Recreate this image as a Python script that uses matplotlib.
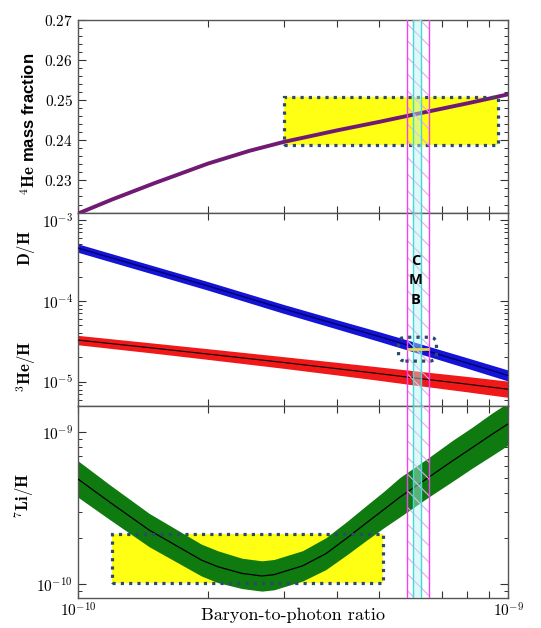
import matplotlib
matplotlib.use('Agg')
import matplotlib.pyplot as plt
import numpy as np
from matplotlib.ticker import FixedLocator, NullFormatter, MultipleLocator
from matplotlib.patches import Rectangle, FancyBboxPatch

plt.rcParams['mathtext.fontset'] = 'cm'
plt.rcParams['hatch.linewidth'] = 0.8

# ---------------- data ----------------
# 4He mass fraction vs baryon-to-photon ratio (eta in units of 1e-10)
eta_he4 = [1.0, 1.2, 1.5, 2.0, 2.5, 3.0, 4.0, 5.0, 6.0, 7.0, 8.0, 9.0, 10.0]
yp_he4 = [0.2218, 0.2253, 0.2293, 0.2342, 0.2374, 0.2396, 0.2425, 0.2446,
          0.2464, 0.2479, 0.2492, 0.2504, 0.2515]

# D/H and 3He/H (eta in units of 1e-10)
eta_mid = [1.0, 1.5, 2.0, 3.0, 4.0, 5.0, 6.0, 8.0, 10.0]
dh = [4.47e-4, 2.39e-4, 1.53e-4, 7.95e-5, 5.10e-5, 3.62e-5, 2.71e-5, 1.71e-5, 1.19e-5]
dh_err_dex = [0.052, 0.052, 0.053, 0.055, 0.057, 0.060, 0.062, 0.065, 0.068]
he3h = [3.27e-5, 2.60e-5, 2.20e-5, 1.73e-5, 1.45e-5, 1.26e-5, 1.12e-5, 9.35e-6, 8.07e-6]
he3h_err_dex = [0.058, 0.062, 0.066, 0.072, 0.078, 0.083, 0.088, 0.095, 0.100]

# 7Li/H (eta in units of 1e-10, Li/H in units of 1e-10)
eta_li = [1.0, 1.18, 1.46, 1.93, 2.11, 2.40, 2.67, 2.85, 3.32, 3.76, 4.22, 4.68, 5.13,
          5.59, 6.49, 7.39, 8.27, 9.16, 10.0]
li7h = [4.90, 3.48, 2.27, 1.44, 1.30, 1.175, 1.13, 1.153, 1.318, 1.585, 2.02, 2.54,
        3.10, 3.74, 5.01, 6.46, 8.00, 9.73, 11.43]
li7h_err_dex = [0.12, 0.115, 0.11, 0.105, 0.105, 0.10, 0.10, 0.10, 0.10, 0.105,
                0.11, 0.115, 0.12, 0.13, 0.13, 0.135, 0.135, 0.14, 0.14]

# observational boxes
he4_obs_eta = [3.0e-10, 9.44e-10]
he4_obs_y = [0.2389, 0.2507]
dh_obs_eta = [5.55e-10, 6.80e-10]
dh_obs_y = [1.80e-5, 3.55e-5]
dh_obs_line = 2.55e-5
li_obs_eta = [1.195e-10, 5.11e-10]
li_obs_y = [1.02e-10, 2.13e-10]

# CMB band
cmb_outer = [5.82e-10, 6.52e-10]
cmb_inner = [6.01e-10, 6.25e-10]
cmb_text_pos = (6.08e-10, 1.81e-4)

# axes ranges and ticks
xlim = (1e-10, 1e-9)
he4_ylim = (0.2218, 0.27)
he4_ticks = [0.23, 0.24, 0.25, 0.26, 0.27]
he4_ticklabels = [r'$\mathbf{0.23}$', r'$\mathbf{0.24}$', r'$\mathbf{0.25}$',
                  r'$\mathbf{0.26}$', r'$\mathbf{0.27}$']
mid_ylim = (5.06e-6, 1.21e-3)
mid_ticks = [1e-5, 1e-4, 1e-3]
mid_ticklabels = [r'$\mathbf{10^{-5}}$', r'$\mathbf{10^{-4}}$', r'$\mathbf{10^{-3}}$']
li_ylim = (8.12e-11, 1.50e-9)
li_ticks = [1e-10, 1e-9]
li_ticklabels = [r'$\mathbf{10^{-10}}$', r'$\mathbf{10^{-9}}$']
x_ticks = [1e-10, 1e-9]
x_ticklabels = [r'$10^{-10}$', r'$10^{-9}$']

# ---------------- styling ----------------
PURPLE = '#701a74'
YELLOW = '#ffff14'
DOTS = '#2d4a6d'
BLUE = '#1414d6'
BLUE_DARK = '#00006e'
RED = '#f01818'
GREEN = '#0f7a0f'
MAGENTA = '#ee44ee'
HATCH = '#f0a0f0'
CYAN = '#40dcdc'
CYAN_FILL = '#b8f2f2'
SPINE = '#555555'
dotted = (0, (1.0, 1.6))

fig = plt.figure(figsize=(5.41, 6.28), dpi=100)
ax1 = fig.add_axes([0.1451, 0.6603, 0.7948, 0.3078])
ax2 = fig.add_axes([0.1451, 0.3540, 0.7948, 0.3064])
ax3 = fig.add_axes([0.1451, 0.0482, 0.7948, 0.3057])

e_he4 = np.array(eta_he4) * 1e-10
e_mid = np.array(eta_mid) * 1e-10
e_li = np.array(eta_li) * 1e-10

# --- top panel: 4He ---
ax1.set_xscale('log')
ax1.add_patch(Rectangle((he4_obs_eta[0], he4_obs_y[0]), he4_obs_eta[1] - he4_obs_eta[0],
                        he4_obs_y[1] - he4_obs_y[0], facecolor=YELLOW, edgecolor='none', zorder=1))
ax1.plot(e_he4, yp_he4, color=PURPLE, lw=2.8, zorder=3, solid_capstyle='butt',
         solid_joinstyle='round')
ax1.add_patch(Rectangle((he4_obs_eta[0], he4_obs_y[0]), he4_obs_eta[1] - he4_obs_eta[0],
                        he4_obs_y[1] - he4_obs_y[0], facecolor='none', edgecolor=DOTS,
                        lw=2.3, linestyle=dotted, zorder=4))
ax1.set_ylim(*he4_ylim)
ax1.yaxis.set_major_locator(FixedLocator(he4_ticks))
ax1.set_yticklabels(he4_ticklabels)
ax1.yaxis.set_minor_locator(MultipleLocator(0.002))

# --- middle panel: D/H and 3He/H ---
ax2.set_xscale('log')
ax2.set_yscale('log')
dh_a = np.array(dh); dh_e = np.array(dh_err_dex)
he_a = np.array(he3h); he_e = np.array(he3h_err_dex)
ax2.fill_between(e_mid, dh_a * 10 ** (-dh_e), dh_a * 10 ** dh_e, color=BLUE, lw=0, zorder=2)
ax2.plot(e_mid, dh_a, color=BLUE_DARK, lw=1.0, zorder=3)
ax2.fill_between(e_mid, he_a * 10 ** (-he_e), he_a * 10 ** he_e, color=RED, lw=0, zorder=2)
ax2.plot(e_mid, he_a, color='black', lw=0.8, zorder=3)
ax2.set_ylim(*mid_ylim)
ax2.set_yticks(mid_ticks)
ax2.set_yticklabels(mid_ticklabels)
ax2.yaxis.set_minor_locator(FixedLocator(
    [m * 10.0 ** p for p in (-6, -5, -4, -3) for m in range(2, 10)]))
ax2.yaxis.set_minor_formatter(NullFormatter())

# --- bottom panel: 7Li/H ---
ax3.set_xscale('log')
ax3.set_yscale('log')
li_a = np.array(li7h) * 1e-10; li_e = np.array(li7h_err_dex)
ax3.add_patch(Rectangle((li_obs_eta[0], li_obs_y[0]), li_obs_eta[1] - li_obs_eta[0],
                        li_obs_y[1] - li_obs_y[0], facecolor=YELLOW, edgecolor='none', zorder=1))
ax3.fill_between(e_li, li_a * 10 ** (-li_e), li_a * 10 ** li_e, color=GREEN, lw=0, zorder=2)
ax3.plot(e_li, li_a, color='black', lw=0.9, zorder=3)
ax3.add_patch(Rectangle((li_obs_eta[0], li_obs_y[0]), li_obs_eta[1] - li_obs_eta[0],
                        li_obs_y[1] - li_obs_y[0], facecolor='none', edgecolor=DOTS,
                        lw=2.3, linestyle=dotted, zorder=4))
ax3.set_ylim(*li_ylim)
ax3.set_yticks(li_ticks)
ax3.set_yticklabels(li_ticklabels)
ax3.yaxis.set_minor_locator(FixedLocator(
    [m * 10.0 ** p for p in (-11, -10, -9) for m in range(2, 10)]))
ax3.yaxis.set_minor_formatter(NullFormatter())

# --- common x axis, CMB band, ticks ---
for ax in (ax1, ax2, ax3):
    ax.set_xlim(*xlim)
    ax.set_xticks(x_ticks)
    ax.xaxis.set_minor_locator(FixedLocator([m * 1e-10 for m in range(2, 10)]))
    ax.xaxis.set_minor_formatter(NullFormatter())
    ax.axvspan(cmb_outer[0], cmb_outer[1], facecolor='none', edgecolor=HATCH,
               hatch='\\\\', lw=0, zorder=5)
    ax.axvspan(cmb_inner[0], cmb_inner[1], facecolor=CYAN_FILL, alpha=0.45, lw=0, zorder=5)
    for xv in cmb_outer:
        ax.axvline(xv, color=MAGENTA, lw=1.0, zorder=6)
    for xv in cmb_inner:
        ax.axvline(xv, color=CYAN, lw=1.0, zorder=6)
    ax.tick_params(which='both', direction='in', top=True, right=True,
                   color='#333333', labelsize=11, pad=4)
    ax.tick_params(axis='y', which='major', length=5.5, width=0.8)
    ax.tick_params(axis='y', which='minor', length=3, width=0.7)
    ax.tick_params(axis='x', which='major', length=5.5, width=0.8)
    ax.tick_params(axis='x', which='minor', length=5, width=0.8)
    for s in ax.spines.values():
        s.set_color(SPINE)
        s.set_linewidth(1.0)

ax1.set_xticklabels([])
ax2.set_xticklabels([])
ax3.set_xticklabels(x_ticklabels)
ax3.tick_params(axis='x', pad=3)

# D/H observational box (rounded, dotted) and measured line
to_axes = ax2.transData + ax2.transAxes.inverted()
(bx0, by0) = to_axes.transform((dh_obs_eta[0], dh_obs_y[0]))
(bx1, by1) = to_axes.transform((dh_obs_eta[1], dh_obs_y[1]))
ax2.add_patch(FancyBboxPatch((bx0, by0), bx1 - bx0, by1 - by0,
                             boxstyle='round,pad=0,rounding_size=0.016',
                             mutation_aspect=430 / 192, transform=ax2.transAxes,
                             facecolor='none', edgecolor=DOTS, lw=2.3,
                             linestyle=dotted, zorder=7))
ax2.plot(cmb_outer, [dh_obs_line, dh_obs_line], color='#e8d44d', lw=2.0, zorder=7,
         solid_capstyle='butt')
ax2.text(cmb_text_pos[0], cmb_text_pos[1], 'C\nM\nB', ha='center', va='center',
         fontsize=10.5, fontweight='bold', family='Open Sans', linespacing=1.5,
         color='black', zorder=8)

# axis labels
fig.text(0.5416, 0.0207, 'Baryon-to-photon ratio', family='cmr10', fontsize=13,
         ha='center', va='center')
fig.text(0.0536, 0.8033, r'$^{\mathbf{4}}\mathbf{He}$ mass fraction', rotation=90,
         ha='center', va='center', family='Liberation Sans', fontweight='bold', fontsize=12)
fig.text(0.048, 0.605, r'$\mathbf{D/H}$', rotation=90, ha='center', va='center', fontsize=12)
fig.text(0.048, 0.4164, r'$^{\mathbf{3}}\mathbf{He/H}$', rotation=90, ha='center',
         va='center', fontsize=12)
fig.text(0.0444, 0.2118, r'$^{\mathbf{7}}\mathbf{Li/H}$', rotation=90, ha='center',
         va='center', fontsize=12)

fig.savefig('out.png', dpi=100)
